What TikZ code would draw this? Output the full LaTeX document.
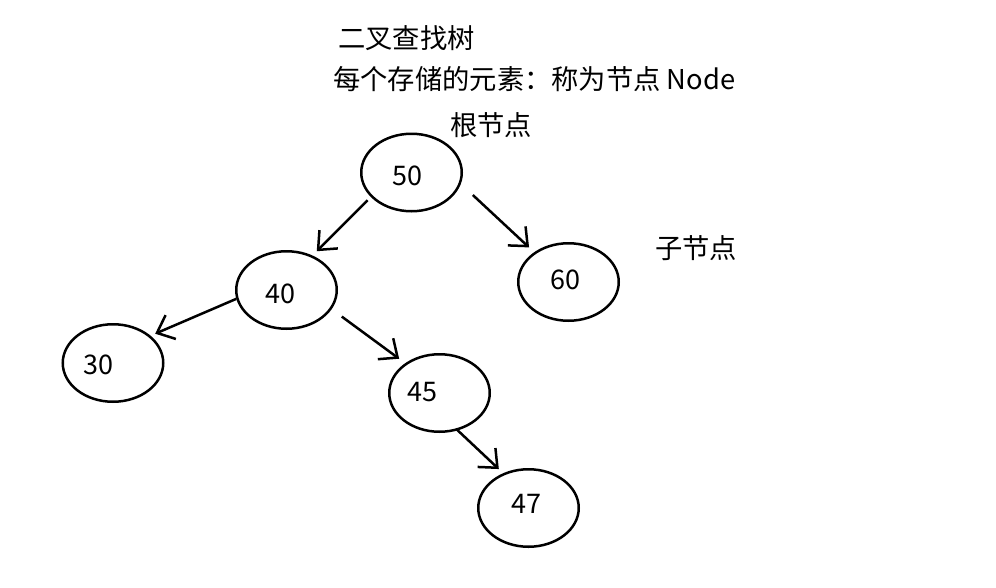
\documentclass[tikz,border=0pt]{standalone}
\usepackage{fontspec}
\newfontfamily\cjk{Noto Sans CJK SC}
\usetikzlibrary{shapes.geometric,arrows.meta}
\tikzset{
  txt/.style={font=\cjk\fontsize{27.3}{32}\selectfont, inner sep=0pt, anchor=west},
  ell/.style={ellipse, draw, line width=2.5pt, minimum width=100.5pt, minimum height=77.5pt, inner sep=0pt},
  num/.style={font=\cjk\fontsize{27}{32}\selectfont, inner sep=0pt},
  arr/.style={line width=2.5pt, -{Straight Barb[length=15pt,width=26pt,line width=2.5pt]}}
}
\begin{document}
\begin{tikzpicture}[x=1pt,y=-1pt]
\fill[white] (0,0) rectangle (996,587);
\useasboundingbox (0,0) rectangle (996,587);

\node[txt] (title) at (338,38) {二叉查找树};
\node[txt] (desc) at (333,79) {每个存储的元素：称为节点 Node};
\node[txt] (root) at (450,125) {根节点};
\node[txt] (child) at (655,248) {子节点};

\node[ell, label={[num, xshift=-4.5pt, yshift=-3pt]center:50}] (n50) at (411.5,172.5) {};
\node[ell, label={[num, xshift=-6pt, yshift=-3.5pt]center:40}] (n40) at (286.5,290) {};
\node[ell, label={[num, xshift=-3.5pt, yshift=2pt]center:60}] (n60) at (568.5,282) {};
\node[ell, label={[num, xshift=-14.5pt, yshift=-1.5pt]center:30}] (n30) at (113,363) {};
\node[ell, label={[num, xshift=-17pt, yshift=0.5pt]center:45}] (n45) at (439.5,393) {};
\node[ell, label={[num, xshift=-2pt, yshift=4.5pt]center:47}] (n47) at (528.5,508) {};

\draw[arr, shorten <=4.5pt, shorten >=6pt] (n50.211.5) -- (n40.53.8);
\draw[arr, shorten <=16.3pt, shorten >=7pt] (n50.347.5) -- (n60.139.2);
\draw[arr, shorten >=5pt] (n40.190.4) -- (n30.36.1);
\draw[arr, shorten <=12.5pt, shorten >=7.5pt] (n40.337.2) -- (n45.139.3);
\draw[arr, shorten <=-2pt, shorten >=6pt] (n45.296.4) -- (n47.126);
\end{tikzpicture}
\end{document}
